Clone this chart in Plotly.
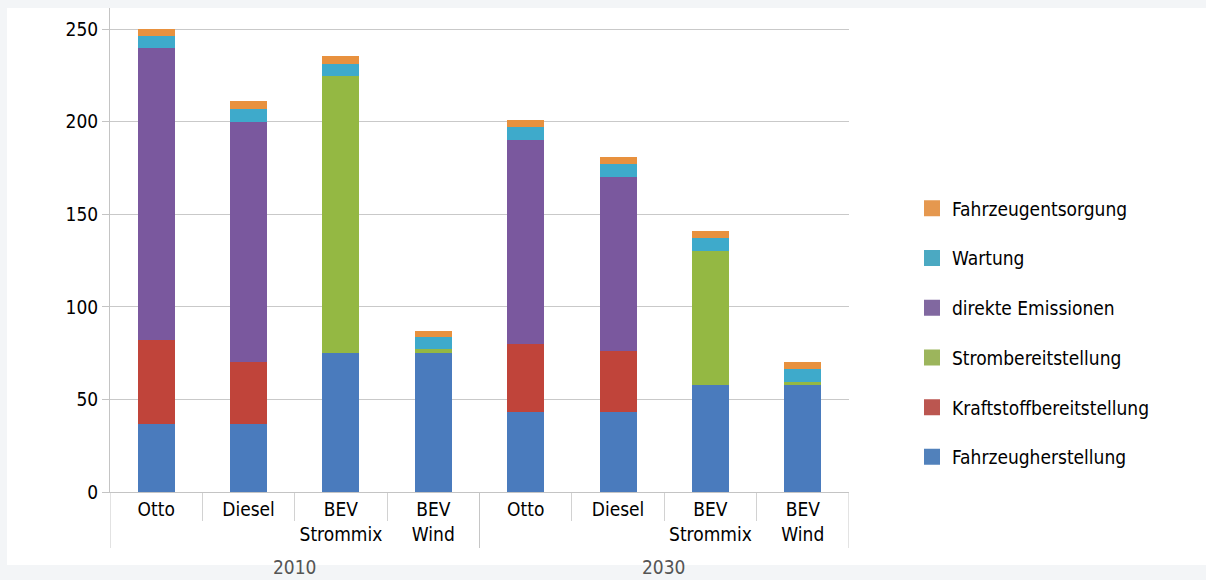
import plotly.graph_objects as go

# ---- data ----
years = ["2010", "2030"]
vehicles = ["Otto", "Diesel", "BEV<br>Strommix", "BEV<br>Wind",
            "Otto", "Diesel", "BEV<br>Strommix", "BEV<br>Wind"]

fahrzeugherstellung = [37, 37, 75, 75, 43, 43, 58, 58]
kraftstoffbereitstellung = [45, 33, 0, 0, 37, 33, 0, 0]
strombereitstellung = [0, 0, 150, 2, 0, 0, 72, 1.5]
direkte_emissionen = [158, 130, 0, 0, 110, 94, 0, 0]
wartung = [6.5, 7, 6.5, 7, 7, 7, 7, 7]
fahrzeugentsorgung = [3.5, 4, 4, 3, 4, 4, 4, 4]

series_names = ["Fahrzeugherstellung", "Kraftstoffbereitstellung",
                "Strombereitstellung", "direkte Emissionen",
                "Wartung", "Fahrzeugentsorgung"]
series_values = [fahrzeugherstellung, kraftstoffbereitstellung,
                 strombereitstellung, direkte_emissionen,
                 wartung, fahrzeugentsorgung]
bar_colors = ["#4a7bbd", "#c0443a", "#94b843", "#7a589e", "#3eaacb", "#e8913e"]
legend_colors = ["#5181bb", "#bb5650", "#9cb55c", "#8168a0", "#4ba9c2", "#e5984f"]

y_ticks = [0, 50, 100, 150, 200, 250]

FONT = "DejaVu Sans Condensed, Liberation Sans Narrow, Roboto, sans-serif"

positions = list(range(len(vehicles)))
per_group = len(vehicles) // len(years)

fig = go.Figure()
for i, (name, vals) in enumerate(zip(series_names, series_values)):
    fig.add_trace(go.Bar(
        x=positions, y=vals, name=name, showlegend=False,
        marker=dict(color=bar_colors[i], line=dict(width=0)), width=0.4,
    ))
    # legend entry with a larger square swatch
    fig.add_trace(go.Scatter(
        x=[None], y=[None], name=name, mode="markers",
        legendgroup=name, legendrank=100 - i,
        marker=dict(symbol="square", size=17, color=legend_colors[i]),
    ))

W, H = 1206, 580
L, R, T, B = 110, 357, 8, 88
pw, ph = W - L - R, H - T - B


def px_x(p):
    return (p - L) / pw


def px_y(p):
    return (H - B - p) / ph


shapes = [dict(
    type="rect", xref="paper", yref="paper", layer="below",
    x0=px_x(7), x1=px_x(1210), y0=px_y(565), y1=px_y(8),
    fillcolor="white", line=dict(width=0),
)]
# group dividers below the axis
for g in range(len(years) + 1):
    xb = g * per_group - 0.5
    shapes.append(dict(
        type="line", xref="x", yref="paper", x0=xb, x1=xb,
        y0=0, y1=px_y(548), line=dict(color="#c6c6c6", width=1),
    ))

annotations = []
for g, yr in enumerate(years):
    annotations.append(dict(
        text=yr, xref="x", yref="paper",
        x=g * per_group + (per_group - 1) / 2, y=px_y(567),
        showarrow=False, xanchor="center", yanchor="middle",
        font=dict(family=FONT, size=19, color="#555555"),
    ))

fig.update_layout(
    width=W, height=H,
    margin=dict(l=L, r=R, t=T, b=B, pad=0),
    barmode="stack",
    paper_bgcolor="#f3f5f7",
    plot_bgcolor="rgba(0,0,0,0)",
    font=dict(family=FONT, size=19, color="#000000"),
    showlegend=True,
    legend=dict(
        traceorder="grouped", tracegroupgap=22,
        x=px_x(912), xanchor="left", y=px_y(333), yanchor="middle",
        font=dict(family=FONT, size=19, color="#000000"),
        bgcolor="rgba(0,0,0,0)",
    ),
    shapes=shapes,
    annotations=annotations,
    yaxis=dict(
        range=[0, 261.5], tickvals=y_ticks, showgrid=True,
        gridcolor="#c9c9c9", gridwidth=1, zeroline=False,
        showline=True, linecolor="#c4c4c4", linewidth=1,
        ticks="outside", ticklen=7, tickcolor="#c4c4c4",
        tickfont=dict(family=FONT, size=19, color="#000000"),
    ),
    xaxis=dict(
        range=[-0.5, len(vehicles) - 0.5],
        tickvals=positions, ticktext=vehicles, ticks="",
        showgrid=False, zeroline=False,
        showline=True, linecolor="#c4c4c4", linewidth=1,
        tickfont=dict(family=FONT, size=19, color="#000000"),
        minor=dict(tickvals=[p - 0.5 for p in positions[1:]],
                   ticks="outside", ticklen=28, tickcolor="#d2d2d2",
                   showgrid=False),
    ),
)

fig.write_html("out.html")
